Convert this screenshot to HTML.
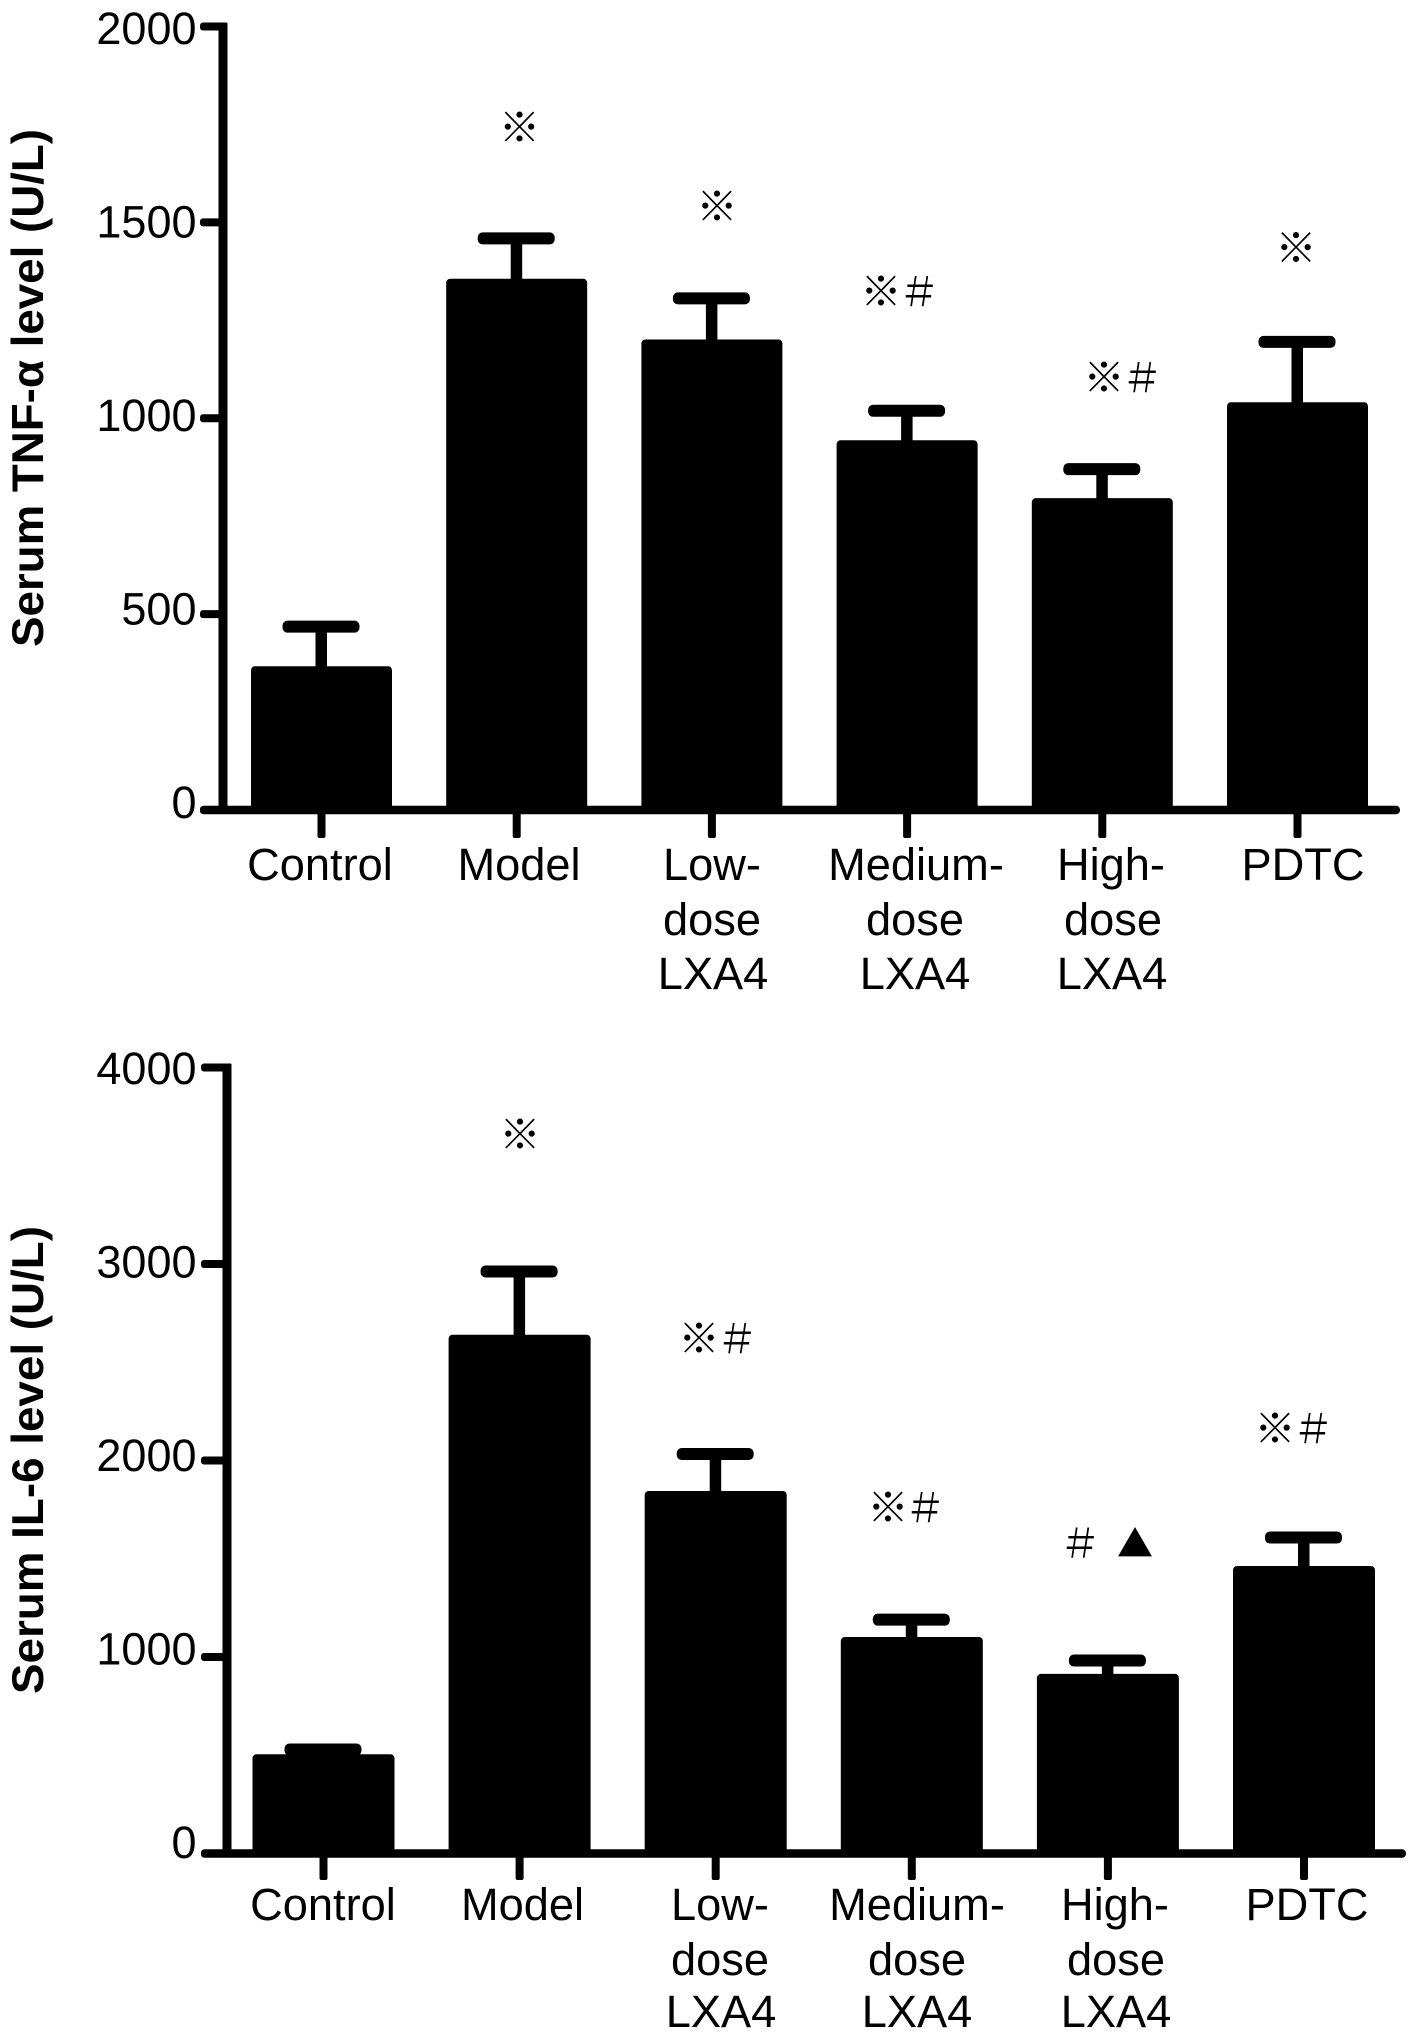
<!DOCTYPE html>
<html lang="en">
<head>
<meta charset="utf-8">
<title>Serum TNF-α and IL-6 levels</title>
<style>
html,body{margin:0;padding:0;background:#fff;}
body{width:1417px;height:2039px;overflow:hidden;}
svg{display:block;}
text{fill:#000;font-family:"Liberation Sans",Arial,sans-serif;}
.cat{font-size:45.2px;text-anchor:middle;}
.tick{font-size:45px;text-anchor:end;}
.ytitle{font-size:44.5px;font-weight:bold;}
.mark{font-family:"Noto Serif CJK SC","Noto Sans CJK SC",serif;font-size:41px;text-anchor:middle;dominant-baseline:central;}
</style>
</head>
<body>
<svg id="figure" xmlns="http://www.w3.org/2000/svg" width="1417" height="2039" viewBox="0 0 1417 2039">
  <rect x="0" y="0" width="1417" height="2039" fill="#fff"/>

  <g id="tnf-chart">
    <text class="ytitle" transform="translate(43,647) rotate(-90)" textLength="518" lengthAdjust="spacingAndGlyphs">Serum TNF-α level (U/L)</text>
    <g>
      <text class="cat" x="320" y="880">Control</text>
      <text class="cat" x="519" y="880">Model</text>
      <text class="cat" x="712" y="880">Low-<tspan x="712" y="935">dose</tspan><tspan x="713" y="989">LXA4</tspan></text>
      <text class="cat" x="916" y="880">Medium-<tspan x="915" y="935">dose</tspan><tspan x="915" y="989">LXA4</tspan></text>
      <text class="cat" x="1111" y="880">High-<tspan x="1113" y="935">dose</tspan><tspan x="1112" y="989">LXA4</tspan></text>
      <text class="cat" x="1303" y="880">PDTC</text>
    </g>
    <g>
      <text class="mark" x="519.5" y="124.5">※</text>
      <text class="mark" x="717" y="203.5">※</text>
      <text class="mark" x="881" y="288.5">※</text>
      <text class="mark" x="919" y="288.5">＃</text>
      <text class="mark" x="1104" y="374.5">※</text>
      <text class="mark" x="1142" y="374.5">＃</text>
      <text class="mark" x="1296" y="245">※</text>
    </g>
  </g>

  <g id="il6-chart">
    <text class="ytitle" transform="translate(43,1694) rotate(-90)" textLength="468" lengthAdjust="spacingAndGlyphs">Serum IL-6 level (U/L)</text>
    <g>
      <text class="cat" x="323" y="1920">Control</text>
      <text class="cat" x="522.5" y="1920">Model</text>
      <text class="cat" x="720" y="1920">Low-<tspan x="720" y="1975">dose</tspan><tspan x="721" y="2027">LXA4</tspan></text>
      <text class="cat" x="917" y="1920">Medium-<tspan x="917" y="1975">dose</tspan><tspan x="917" y="2027">LXA4</tspan></text>
      <text class="cat" x="1115" y="1920">High-<tspan x="1116" y="1975">dose</tspan><tspan x="1116" y="2027">LXA4</tspan></text>
      <text class="cat" x="1307" y="1920">PDTC</text>
    </g>
    <g>
      <text class="mark" x="520" y="1131.5">※</text>
      <text class="mark" x="699" y="1335.5">※</text>
      <text class="mark" x="737" y="1335.5">＃</text>
      <text class="mark" x="888" y="1504.5">※</text>
      <text class="mark" x="925" y="1504.5">＃</text>
      <text class="mark" x="1080" y="1540">＃</text>
      <text class="mark" x="1135" y="1542" style="font-size:36px">▲</text>
      <text class="mark" x="1275" y="1425.5">※</text>
      <text class="mark" x="1313" y="1425.5">＃</text>
    </g>
  </g>
</svg>

<script>
const categories = ["control", "model", "low-dose", "medium-dose", "high-dose", "pdtc"];

const tnfMeans = [367, 1356, 1201, 944, 796, 1041];
const tnfErrorTops = [468, 1459, 1306, 1019, 870, 1195];
const tnfTicks = [0, 500, 1000, 1500, 2000];

const il6Means = [505, 2640, 1845, 1102, 914, 1463];
const il6ErrorTops = [529, 2962, 2033, 1190, 982, 1608];
const il6Ticks = [0, 1000, 2000, 3000, 4000];

const NS = "http://www.w3.org/2000/svg";

function makeRect(parent, x, y, w, h, r) {
  const el = document.createElementNS(NS, "rect");
  el.setAttribute("x", x);
  el.setAttribute("y", y);
  el.setAttribute("width", w);
  el.setAttribute("height", h);
  el.setAttribute("rx", r);
  el.setAttribute("fill", "#000");
  parent.appendChild(el);
  return el;
}

function drawChart(prefix, geom, means, errorTops, ticks) {
  const host = document.getElementById(prefix + "-chart");
  const maxTick = ticks[ticks.length - 1];
  const yScale = v => geom.y0 - (v / maxTick) * (geom.y0 - geom.yTop);
  const labelY = v => geom.labelY0 - (v / maxTick) * geom.labelSpan;
  const xScale = i => geom.x0 + i * geom.step;

  ticks.forEach(t => {
    const tickMark = makeRect(host, geom.tickLeft, yScale(t) - 4, geom.axisX - geom.tickLeft, 8, 3);
    
    

    const label = document.createElementNS(NS, "text");
    label.setAttribute("class", "tick");
    label.setAttribute("x", 196.5);
    label.setAttribute("y", labelY(t));
    label.textContent = String(t);
    
    
    host.appendChild(label);
  });

  const yAxis = makeRect(host, geom.axisX - 4.5, yScale(maxTick) - 4, 9, geom.y0 - yScale(maxTick) + 8, 1);
  
  

  const xAxis = makeRect(host, geom.tickLeft, geom.y0 - 4.25, geom.xEnd - geom.tickLeft, 8.5, 4);
  
  

  categories.forEach((cat, i) => {
    const cx = xScale(i);

    const stem = makeRect(host, cx - 6, yScale(errorTops[i]), 11.5, yScale(means[i]) - yScale(errorTops[i]) + 2, 0);
    
    

    const cap = makeRect(host, cx - 39, yScale(errorTops[i]) - 6, 77, 12, 5);
    
    

    const bar = makeRect(host, cx - geom.barW / 2, yScale(means[i]), geom.barW, geom.y0 - yScale(means[i]) + 2, 4);
    
    

    const xTick = makeRect(host, cx - 4, geom.y0, 8, geom.tickBottom - geom.y0, 2);
    
    
  });
}

drawChart("tnf", {
  y0: 810, yTop: 26.5, labelY0: 818, labelSpan: 774,
  x0: 321.5, step: 195.2, barW: 141,
  axisX: 223, tickLeft: 200, xEnd: 1400, tickBottom: 838
}, tnfMeans, tnfErrorTops, tnfTicks);

drawChart("il6", {
  y0: 1853.5, yTop: 1067.5, labelY0: 1858, labelSpan: 774,
  x0: 323.5, step: 196.1, barW: 142,
  axisX: 227, tickLeft: 201, xEnd: 1406, tickBottom: 1880
}, il6Means, il6ErrorTops, il6Ticks);
</script>
</body>
</html>
